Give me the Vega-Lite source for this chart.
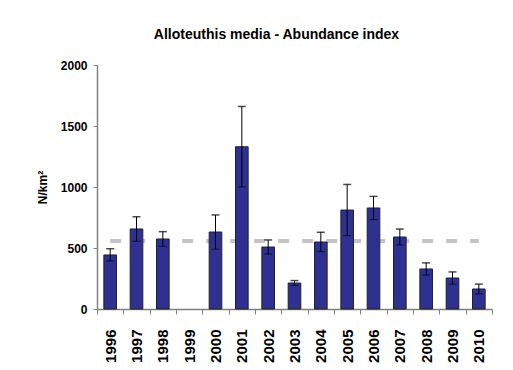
{
  "$schema": "https://vega.github.io/schema/vega-lite/v6.json",
  "width": 395,
  "height": 244,
  "autosize": {"type": "none"},
  "padding": {"left": 97, "top": 65, "right": 21, "bottom": 61},
  "background": "white",
  "title": {
    "text": "Alloteuthis media - Abundance index",
    "font": "Liberation Sans",
    "fontSize": 14,
    "fontWeight": "bold",
    "color": "black",
    "anchor": "middle",
    "dx": -18,
    "offset": 17
  },
  "config": {
    "view": {"stroke": null},
    "font": "Liberation Sans"
  },
  "datasets": {
    "abund": [
      {"year": "1996", "value": 443, "lo": 393, "hi": 493},
      {"year": "1997", "value": 656, "lo": 556, "hi": 756},
      {"year": "1998", "value": 574, "lo": 514, "hi": 634},
      {"year": "1999", "value": null, "lo": null, "hi": null},
      {"year": "2000", "value": 631, "lo": 491, "hi": 771},
      {"year": "2001", "value": 1330, "lo": 1000, "hi": 1660},
      {"year": "2002", "value": 508, "lo": 450, "hi": 566},
      {"year": "2003", "value": 213, "lo": 193, "hi": 233},
      {"year": "2004", "value": 549, "lo": 469, "hi": 629},
      {"year": "2005", "value": 811, "lo": 601, "hi": 1021},
      {"year": "2006", "value": 828, "lo": 733, "hi": 923},
      {"year": "2007", "value": 590, "lo": 525, "hi": 655},
      {"year": "2008", "value": 328, "lo": 278, "hi": 378},
      {"year": "2009", "value": 254, "lo": 204, "hi": 304},
      {"year": "2010", "value": 164, "lo": 124, "hi": 204}
    ],
    "mean": [
      {"start": "1996", "end": "2010", "mean": 558}
    ]
  },
  "layer": [
    {
      "data": {"name": "mean"},
      "mark": {"type": "rule", "color": "#c4c4c4", "strokeWidth": 4, "strokeDash": [11, 13]},
      "encoding": {
        "x": {"field": "start", "type": "ordinal", "bandPosition": 0.5},
        "x2": {"field": "end", "bandPosition": 0.5},
        "y": {"field": "mean", "type": "quantitative"}
      }
    },
    {
      "data": {"name": "abund"},
      "mark": {"type": "bar", "color": "#2E3192", "stroke": "#222222", "strokeWidth": 1, "width": {"band": 0.48}},
      "encoding": {
        "x": {
          "field": "year",
          "type": "ordinal",
          "scale": {
            "domain": ["1996","1997","1998","1999","2000","2001","2002","2003","2004","2005","2006","2007","2008","2009","2010"],
            "paddingInner": 0,
            "paddingOuter": 0
          },
          "axis": {
            "title": null,
            "tickBand": "extent",
            "labelAngle": 270,
            "labelFont": "Liberation Sans",
            "labelFontSize": 15,
            "labelFontWeight": "bold",
            "labelColor": "black",
            "labelPadding": 15,
            "tickSize": 5,
            "tickColor": "#808080",
            "domainColor": "#808080",
            "domainWidth": 1.5
          }
        },
        "y": {
          "field": "value",
          "type": "quantitative",
          "scale": {"domain": [0, 2000], "nice": false},
          "axis": {
            "title": "N/km²",
            "titleFont": "Liberation Sans",
            "titleFontSize": 12,
            "titleFontWeight": "bold",
            "titleColor": "black",
            "titlePadding": 11,
            "values": [0, 500, 1000, 1500, 2000],
            "format": "d",
            "grid": false,
            "labelFont": "Liberation Sans",
            "labelFontSize": 12,
            "labelFontWeight": "bold",
            "labelColor": "black",
            "labelPadding": 6,
            "tickSize": 4,
            "tickColor": "#808080",
            "domainColor": "#808080",
            "domainWidth": 1.5
          }
        }
      }
    },
    {
      "data": {"name": "abund"},
      "mark": {"type": "rule", "color": "black", "strokeWidth": 1},
      "encoding": {
        "x": {"field": "year", "type": "ordinal"},
        "y": {"field": "lo", "type": "quantitative"},
        "y2": {"field": "hi"}
      }
    },
    {
      "data": {"name": "abund"},
      "mark": {"type": "tick", "orient": "horizontal", "color": "black", "size": 8, "thickness": 1.5},
      "encoding": {
        "x": {"field": "year", "type": "ordinal"},
        "y": {"field": "hi", "type": "quantitative"}
      }
    },
    {
      "data": {"name": "abund"},
      "mark": {"type": "tick", "orient": "horizontal", "color": "black", "size": 8, "thickness": 1},
      "encoding": {
        "x": {"field": "year", "type": "ordinal"},
        "y": {"field": "lo", "type": "quantitative"}
      }
    }
  ]
}
